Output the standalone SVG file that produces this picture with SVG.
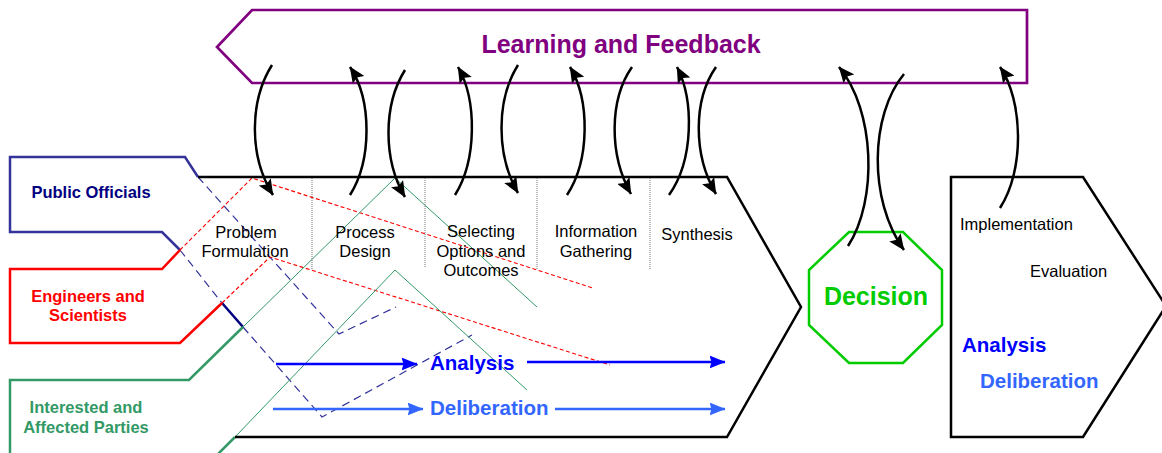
<svg xmlns="http://www.w3.org/2000/svg" width="1162" height="453" viewBox="0 0 1162 453">
<defs>
<marker id="ah" viewBox="0 0 16 14" refX="15.5" refY="7" markerWidth="16" markerHeight="14" markerUnits="userSpaceOnUse" orient="auto">
<path d="M0,0 L16,7 L0,14 L3,7 z" fill="#000"/>
</marker>
<marker id="ahA" viewBox="0 0 16 13" refX="15.5" refY="6.5" markerWidth="16" markerHeight="13" markerUnits="userSpaceOnUse" orient="auto">
<path d="M0,0 L16,6.5 L0,13 L2,6.5 z" fill="#0000FF"/>
</marker>
<marker id="ahD" viewBox="0 0 16 13" refX="15.5" refY="6.5" markerWidth="16" markerHeight="13" markerUnits="userSpaceOnUse" orient="auto">
<path d="M0,0 L16,6.5 L0,13 L2,6.5 z" fill="#3366FF"/>
</marker>
</defs>
<style>
text{font-family:"Liberation Sans",Arial,sans-serif}
.ph{font-size:16.5px;fill:#000}
.lbl{font-size:16.5px;font-weight:bold}
.big{font-size:25px;font-weight:bold}
.ad{font-size:20.5px;font-weight:bold}
.frame{fill:none;stroke:#000;stroke-width:2.5;stroke-linejoin:miter}
.sep{stroke:#777;stroke-width:1;stroke-dasharray:1,1}
.curve{fill:none;stroke:#000;stroke-width:2.5;marker-end:url(#ah)}
.bdash{fill:none;stroke:#333399;stroke-width:1.2;stroke-dasharray:8,5}
.rdash{fill:none;stroke:#FF0000;stroke-width:1.1;stroke-dasharray:4,2.5}
.gthin{fill:none;stroke:#339966;stroke-width:1}
</style>

<g id="learning-feedback">
<polygon points="252,10 1027,10 1027,83 252,83 217,47" fill="none" stroke="#800080" stroke-width="2.7"/>
<text class="big" x="621" y="53" text-anchor="middle" fill="#800080">Learning and Feedback</text>
</g>

<g id="public-officials">
<polyline points="198,177 185,157 10,157 10,232 162,232 180,250" fill="none" stroke="#333399" stroke-width="2.5"/>
<polyline class="bdash" points="198,177 339,334 396,307"/>
<polyline class="bdash" points="180,250 222,303"/>
<polyline class="bdash" points="243,327 322,417 472,335"/>
<line x1="222" y1="303" x2="243" y2="327" stroke="#000080" stroke-width="2.5"/>
<text class="lbl" x="91" y="198" text-anchor="middle" fill="#000080">Public Officials</text>
</g>

<g id="engineers-scientists">
<polyline points="180,250 162,269 10,269 10,343 180,343 222,303" fill="none" stroke="#FF0000" stroke-width="2.5"/>
<polyline class="rdash" points="180,250 252,178 593,288"/>
<polyline class="rdash" points="222,303 270,257 610,365"/>
<text class="lbl" x="88" y="302" text-anchor="middle" fill="#FF0000">Engineers and</text>
<text class="lbl" x="88" y="321" text-anchor="middle" fill="#FF0000">Scientists</text>
</g>

<g id="interested-affected">
<polyline points="243,327 189,380 10,380 10,460" fill="none" stroke="#339966" stroke-width="2.5"/>
<line x1="218" y1="454" x2="235" y2="437" stroke="#339966" stroke-width="2.5"/>
<polyline class="gthin" points="243,327 395,178 537,307"/>
<polyline class="gthin" points="235,437 395,270 527,390"/>
<text class="lbl" x="86" y="413" text-anchor="middle" fill="#339966">Interested and</text>
<text class="lbl" x="86" y="433" text-anchor="middle" fill="#339966">Affected Parties</text>
</g>

<g id="analysis-deliberation-process">
<polyline class="frame" points="198,177 727,177 801,307 727,437 235,437"/>
<line class="sep" x1="312" y1="178" x2="312" y2="270"/>
<line class="sep" x1="425" y1="178" x2="425" y2="268"/>
<line class="sep" x1="537" y1="178" x2="537" y2="270"/>
<line class="sep" x1="650" y1="178" x2="650" y2="269"/>
<text class="ph" x="246" y="238" text-anchor="middle">Problem</text>
<text class="ph" x="245" y="257" text-anchor="middle">Formulation</text>
<text class="ph" x="365" y="238" text-anchor="middle">Process</text>
<text class="ph" x="365" y="257" text-anchor="middle">Design</text>
<text class="ph" x="481" y="237" text-anchor="middle">Selecting</text>
<text class="ph" x="481" y="257" text-anchor="middle">Options and</text>
<text class="ph" x="481" y="276" text-anchor="middle">Outcomes</text>
<text class="ph" x="596" y="237" text-anchor="middle">Information</text>
<text class="ph" x="596" y="257" text-anchor="middle">Gathering</text>
<text class="ph" x="697" y="240" text-anchor="middle">Synthesis</text>
<text class="ad" x="430" y="370" fill="#0000FF">Analysis</text>
<text class="ad" x="430" y="415" fill="#3366FF">Deliberation</text>
</g>

<g id="decision">
<polygon points="849,232 903,232 942,270 942,325 903,363 849,363 809,325 809,270" fill="none" stroke="#00CC00" stroke-width="2.5"/>
<text class="big" x="876" y="305" text-anchor="middle" fill="#00CC00">Decision</text>
</g>

<g id="implementation-evaluation">
<polygon class="frame" points="951,177 1083,177 1166,306 1083,437 951,437"/>
<text class="ph" x="960" y="230">Implementation</text>
<text class="ph" x="1030" y="277">Evaluation</text>
<text class="ad" x="962" y="352" fill="#0000FF">Analysis</text>
<text class="ad" x="980" y="388" fill="#3366FF">Deliberation</text>
</g>

<g id="connectors">
<line x1="276" y1="364" x2="417" y2="364" stroke="#0000FF" stroke-width="2.5" marker-end="url(#ahA)"/>
<line x1="527" y1="362" x2="725" y2="362" stroke="#0000FF" stroke-width="2.5" marker-end="url(#ahA)"/>
<line x1="273" y1="409" x2="423" y2="409" stroke="#3366FF" stroke-width="2.5" marker-end="url(#ahD)"/>
<line x1="555" y1="409" x2="725" y2="409" stroke="#3366FF" stroke-width="2.5" marker-end="url(#ahD)"/>
<path class="curve" d="M272,65 C250,100 248,155 273,195"/>
<path class="curve" d="M350,195 C372,160 372,100 350,67"/>
<path class="curve" d="M405,70 C383,105 383,160 405,197"/>
<path class="curve" d="M455,195 C477,160 477,100 458,67"/>
<path class="curve" d="M518,65 C496,100 496,155 518,193"/>
<path class="curve" d="M567,195 C590,160 590,100 570,67"/>
<path class="curve" d="M632,67 C609,100 609,155 631,194"/>
<path class="curve" d="M669,195 C694,160 694,100 677,67"/>
<path class="curve" d="M716,67 C693,100 693,155 716,194"/>
<path class="curve" d="M848,246 C878,200 875,110 839,67"/>
<path class="curve" d="M904,74 C870,115 868,200 904,250"/>
<path class="curve" d="M1000,208 C1025,170 1023,100 1000,67"/>
</g>
</svg>
